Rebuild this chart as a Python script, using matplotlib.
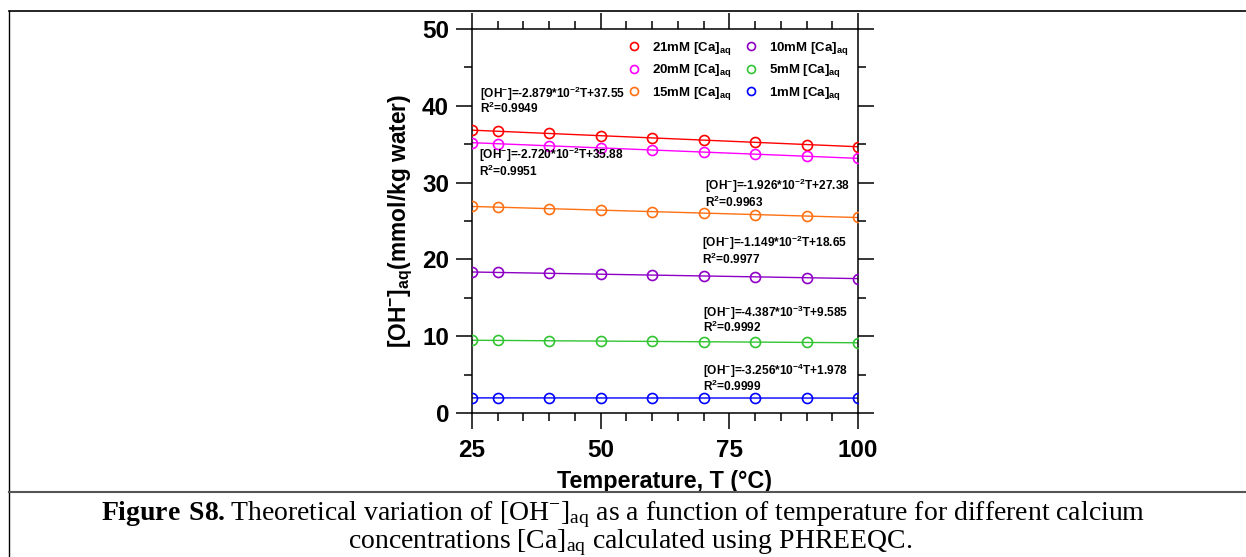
import matplotlib.pyplot as plt
from matplotlib.lines import Line2D
from matplotlib.ticker import MultipleLocator
import numpy as np

plt.rcParams['font.family'] = ['Liberation Sans', 'DejaVu Sans']
plt.rcParams['mathtext.default'] = 'regular'
plt.rcParams['mathtext.fontset'] = 'custom'
plt.rcParams['mathtext.bf'] = 'Liberation Serif:bold'

# temperature (deg C)
temps = [25, 30, 40, 50, 60, 70, 80, 90, 100]

# [OH-]aq (mmol/kg water)
oh_21 = [36.90, 36.75, 36.42, 36.10, 35.80, 35.50, 35.23, 34.95, 34.70]
oh_20 = [35.20, 35.07, 34.78, 34.49, 34.22, 33.93, 33.69, 33.43, 33.18]
oh_15 = [26.90, 26.80, 26.61, 26.42, 26.22, 26.03, 25.84, 25.65, 25.46]
oh_10 = [18.36, 18.31, 18.19, 18.08, 17.96, 17.85, 17.73, 17.62, 17.50]
oh_5 = [9.47, 9.45, 9.41, 9.37, 9.32, 9.28, 9.23, 9.19, 9.15]
oh_1 = [1.970, 1.968, 1.965, 1.962, 1.958, 1.955, 1.952, 1.949, 1.945]

labels = ['21mM', '20mM', '15mM', '10mM', '5mM', '1mM']
colors = ['#ff0000', '#ff00ff', '#ff7013', '#8e00c6', '#33c433', '#0000ff']

# linear fits shown on the chart
slopes = [-2.879e-2, -2.720e-2, -1.926e-2, -1.149e-2, -4.387e-3, -3.256e-4]
intercepts = [37.55, 35.88, 27.38, 18.65, 9.585, 1.978]
fit_eq = ['-2.879*10$^{-2}$T+37.55', '-2.720*10$^{-2}$T+35.88',
          '-1.926*10$^{-2}$T+27.38', '-1.149*10$^{-2}$T+18.65',
          '-4.387*10$^{-3}$T+9.585', '-3.256*10$^{-4}$T+1.978']
r2 = ['0.9949', '0.9951', '0.9963', '0.9977', '0.9992', '0.9999']
# where each equation sits (x, y of first line, y of second line)
fit_x = [26.55, 26.35, 70.25, 69.7, 69.9, 69.9]
fit_y1 = [41.5, 33.6, 29.55, 22.1, 13.05, 5.5]
fit_y2 = [39.6, 31.5, 27.45, 20.0, 11.1, 3.5]

series = [oh_21, oh_20, oh_15, oh_10, oh_5, oh_1]

fig = plt.figure(figsize=(12.46, 5.57), dpi=100)
ax = fig.add_axes([0.3788, 0.2585, 0.3098, 0.6894])

T = np.array([25, 100])
for vals, lab, col, m, b in zip(series, labels, colors, slopes, intercepts):
    ax.plot(T, m * T + b, color=col, lw=1.0, zorder=2)
    ax.plot(temps, vals, 'o', mfc='none', mec=col, mew=1.2, ms=7.2,
            label=lab + ' [Ca]$_{aq}$', zorder=3)

for eq, r, x, y1, y2 in zip(fit_eq, r2, fit_x, fit_y1, fit_y2):
    ax.text(x, y1, '[OH$^{-}$]=' + eq, fontsize=8.6, fontweight='bold',
            va='center', ha='left')
    ax.text(x, y2, 'R$^{2}$=' + r, fontsize=8.6, fontweight='bold',
            va='center', ha='left')

ax.set_xlim(25, 100)
ax.set_ylim(0, 50)
ax.xaxis.set_major_locator(MultipleLocator(25))
ax.xaxis.set_minor_locator(MultipleLocator(5))
ax.yaxis.set_major_locator(MultipleLocator(10))
ax.yaxis.set_minor_locator(MultipleLocator(5))
ax.tick_params(which='both', direction='out', top=True, right=True, width=1.1)
ax.tick_params(which='major', length=11.5, labelsize=17.5, pad=5)
ax.tick_params(which='minor', length=5.8)
ax.tick_params(axis='x', which='major', pad=7)
for lbl in ax.get_xticklabels() + ax.get_yticklabels():
    lbl.set_fontweight('bold')
for s in ax.spines.values():
    s.set_linewidth(1.1)

ax.set_xlabel('Temperature, T (°C)', fontsize=16.8, fontweight='bold', labelpad=6)
ax.set_ylabel('[OH$^{-}$]$_{aq}$(mmol/kg water)', fontsize=16.4, fontweight='bold',
              labelpad=5)

leg = ax.legend(ncol=2, loc='upper left', bbox_to_anchor=(0.403, 0.972),
                frameon=False, prop={'size': 9.5, 'weight': 'bold'},
                markerscale=0.8, handlelength=1.0, handletextpad=0.85,
                labelspacing=0.42, columnspacing=1.0, borderpad=0,
                borderaxespad=0)

# table borders around the figure
fig.add_artist(Line2D([0.0072, 1.0], [0.980, 0.980], color='black', lw=1.2))
fig.add_artist(Line2D([0.0072, 0.0072], [0.0, 0.980], color='black', lw=1.0))
fig.add_artist(Line2D([0.0072, 1.0], [0.1158, 0.1158], color='#555555', lw=1.5))

fig.text(0.5, 0.076, r'$\mathbf{Figure\ S8.}$Theoretical variation of [OH$^{-}$]$_{aq}$ as a '
         'function of temperature for different calcium',
         ha='center', va='center', fontsize=20, family='Liberation Serif')
fig.text(0.506, 0.026, 'concentrations [Ca]$_{aq}$ calculated using PHREEQC.',
         ha='center', va='center', fontsize=20, family='Liberation Serif')

fig.savefig('out.png', dpi=100)
